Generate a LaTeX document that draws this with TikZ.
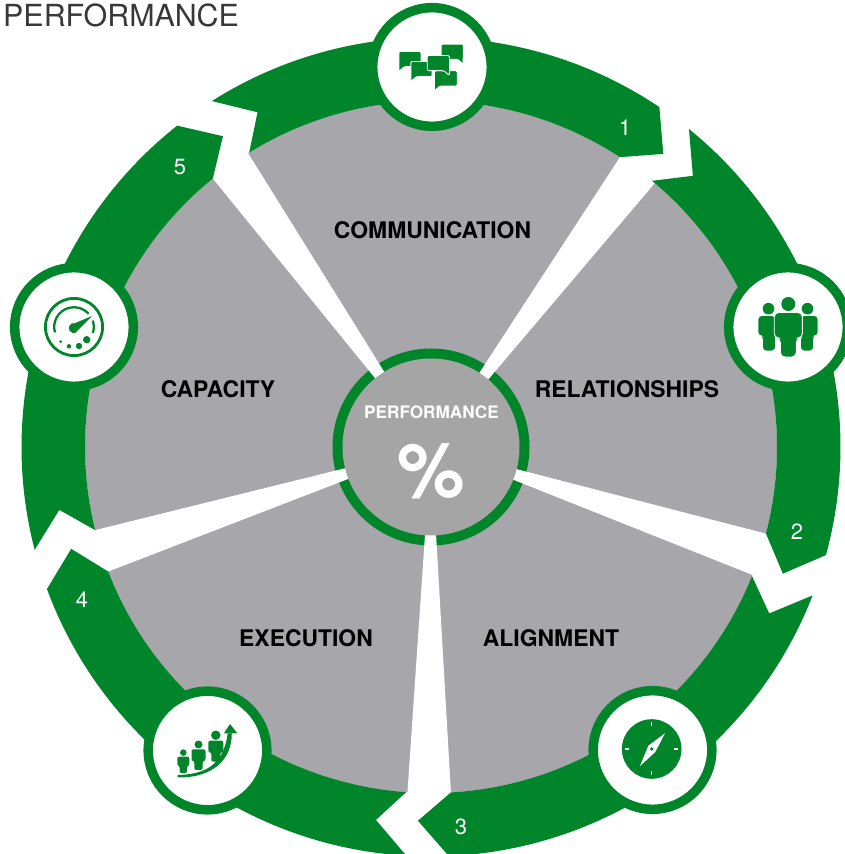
\documentclass[tikz,border=0pt]{standalone}
\usepackage{fontspec}
\setmainfont{TeX Gyre Heros}
\definecolor{ringgreen}{HTML}{00852B}
\definecolor{sectorgrey}{HTML}{A7A6AB}
\definecolor{hubgrey}{HTML}{A5A5A5}
\tikzset{
    sectorlabel/.style={font=\fontsize{22.9}{26}\selectfont\bfseries, text=black},
    steplabel/.style={font=\fontsize{22}{26}\selectfont, text=white},
    iconring/.style={draw=ringgreen, fill=white, line width=9.5pt},
    iconshape/.style={fill=ringgreen, draw=white, line width=0.9pt},
}
\begin{document}
\begin{tikzpicture}[x=1pt,y=1pt]
    \useasboundingbox (0,0) rectangle (844,854);
    \coordinate (hub) at (431,407);

    \fill[sectorgrey] (hub) circle (346);
    \fill[ringgreen] (hub) circle (98.5);

    % gaps between the sectors, then the arrows round them
    \foreach \rot in {0, -71.4, -143.6, -215.8, -287.8}
        \fill[white, shift={(hub)}, rotate=\rot] (0,0) -- (56.9:348) -- (49.7:348) -- cycle;

    \fill[hubgrey] (hub) circle (88.5);

    \foreach \rot in {0, -71.4, -143.6, -215.8, -287.8}
        \fill[ringgreen, shift={(hub)}, rotate=\rot]
            (122.35:409.5) arc[start angle=122.35, end angle=56.1, radius=409.5]
            -- (51.6:374) -- (56.9:346)
            arc[start angle=56.9, end angle=121.7, radius=346]
            -- (117.4:377) -- cycle;

    \foreach \x/\y in {432/787, 788/527, 652.5/104, 207.5/103.5, 74/527}
        \draw[iconring] (\x,\y) circle (59.3);

    % speech bubbles
    \begin{scope}[shift={(432,787)}]
        \foreach \y/\basea/\baseb/\tip/\far in {0.3/-27.7/-33.2/-33.2/-11, -9.7/-15.7/-21.2/-21.2/0, -19/8/2.5/2.5/25.2, 7.7/25.7/31.2/31/9.2, -3.7/11.7/17.5/17.3/-4.8}
            \filldraw[iconshape, rounded corners=1.2pt] (\basea,\y) -- (\tip,\y-4.8) -- (\baseb,\y)
                -- (\baseb,\y+15.2) -- (\far,\y+15.2) -- (\far,\y) -- cycle;
    \end{scope}

    % three people
    \begin{scope}[shift={(788,527)}]
        \foreach \x in {-19.5,19.5}
        {
            \fill[ringgreen] (\x,18.3) circle (5.8);
            \filldraw[iconshape, rounded corners=3.5pt, xshift=\x, xscale=-\x/19.5]
                (-10.5,11.5) -- (7,11.5) -- (7,-24) -- (-6,-24) -- (-6,-9) -- (-10.5,-9) -- cycle;
        }
        \fill[ringgreen] (0.3,23) circle (7);
        \filldraw[iconshape, rounded corners=4.5pt]
            (-13.8,14.5) -- (14.4,14.5) -- (14.4,-11) -- (8.3,-11) -- (8.3,-30) -- (-7.7,-30) -- (-7.7,-11) -- (-13.8,-11) -- cycle;
    \end{scope}

    % compass
    \begin{scope}[shift={(651.7,105)}]
        \fill[ringgreen] (0,0) circle (29.8);
        \foreach \ang in {0,90,180,270}
            \draw[white, line width=1.3pt] (\ang:22.5) -- (\ang:26.5);
        \fill[white] (13.3,15.7) -- (3.6,-3) -- (-11.7,-17) -- (-3.4,3.2) -- cycle;
        \fill[white] (0,0) circle (3.4);
        \fill[ringgreen] (0,0) circle (1.8);
    \end{scope}

    % rising people
    \begin{scope}[shift={(207.5,104)}]
        \fill[ringgreen] (-30,-25) .. controls (-5,-24.5) and (16,-17) .. (20.2,16.7) -- (24.3,16.7)
            .. controls (24.5,-9) and (6,-28) .. (-30,-27.5) -- cycle;
        \fill[ringgreen] (22.5,26) -- (29.8,16.7) -- (16.5,16.7) -- cycle;
        \foreach \x/\y/\w/\hgt/\r in {-24.2/-6.7/6/16.5/3.3, -9/0.7/7/20.7/4, 8.3/9.3/7.5/21/4.7}
        {
            \fill[ringgreen] (\x,\y+\r+0.8) circle (\r);
            \fill[ringgreen, rounded corners=2pt] (\x-\w,\y) -- (\x+\w,\y) -- (\x+\w,\y-\hgt*0.55)
                -- (\x+\w*0.6,\y-\hgt*0.55) -- (\x+\w*0.6,\y-\hgt) -- (\x-\w*0.6,\y-\hgt)
                -- (\x-\w*0.6,\y-\hgt*0.55) -- (\x-\w,\y-\hgt*0.55) -- cycle;
        }
    \end{scope}

    % gauge
    \begin{scope}[shift={(74,527)}]
        \draw[ringgreen, line width=2.8pt] (0,0) circle (28.6);
        \draw[ringgreen, line width=2.3pt] (196:19.8) arc[start angle=196, end angle=42, radius=19.8];
        \draw[ringgreen, line width=2.3pt] (19:19.8) arc[start angle=19, end angle=-18, radius=19.8];
        \fill[ringgreen] (18,11) -- (1.2,3.9) arc[start angle=75, end angle=285, radius=5.1] -- cycle;
        \foreach \x/\y/\r in {-13.3/-14.7/1.5, -5/-19.3/2.2, 5/-19/3.2, 12.7/-12.7/3.7}
            \fill[ringgreen] (\x,\y) circle (\r);
    \end{scope}

    \node[anchor=base west, inner sep=0pt, text=black!78, font=\fontsize{30.4}{34}\selectfont] (title) at (3,827.5) {PERFORMANCE};

    \node[sectorlabel] (communication) at (432.5,624) {COMMUNICATION};
    \node[sectorlabel] (relationships) at (627,465) {RELATIONSHIPS};
    \node[sectorlabel] (alignment) at (551,216) {ALIGNMENT};
    \node[sectorlabel] (execution) at (306,216) {EXECUTION};
    \node[sectorlabel] (capacity) at (218,465) {CAPACITY};

    \node[steplabel] (one) at (625,726) {1};
    \node[steplabel] (two) at (797,322) {2};
    \node[steplabel] (three) at (461,27) {3};
    \node[steplabel] (four) at (82,254) {4};
    \node[steplabel] (five) at (180,687) {5};

    \node[text=white, font=\fontsize{17.2}{20}\selectfont\bfseries] (hubtitle) at (431.5,442) {PERFORMANCE};
    \node[text=white, font=\fontsize{76}{80}\selectfont\bfseries] (percent) at (431,382.5) {\%};
\end{tikzpicture}
\end{document}
